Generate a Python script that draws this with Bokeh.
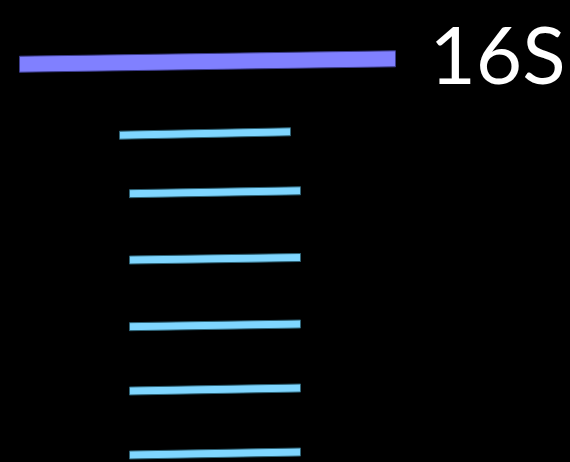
from bokeh.plotting import figure
from bokeh.models import Range1d
from bokeh.core.properties import value
from bokeh.embed import file_html
from bokeh.resources import INLINE
import numpy as np

# Data: segments (start, end along x; level at left and right ends)
labels = ["16S", "", "", "", "", "", ""]
x_start = [19, 119, 129, 129, 129, 129, 129]
x_end = [395, 290, 300, 300, 300, 300, 300]
y_left = [63.7, 134.7, 193.2, 259.5, 326.2, 390.5, 454.5]
y_right = [58.3, 131.3, 190.3, 257.0, 323.5, 387.5, 451.5]

# Styles
thickness = [16, 8, 8, 8, 8, 8, 8]
fill_colors = ["#8080ff"] + ["#7fd6ff"] * 6
line_colors = ["#3c3c8c"] + ["#2e6478"] * 6

p = figure(width=570, height=462, output_backend="svg", toolbar_location=None,
           x_range=Range1d(0, 570), y_range=Range1d(462, 0),
           min_border=0, background_fill_color="black", border_fill_color="black",
           outline_line_color=None)
p.axis.visible = False
p.grid.visible = False

xs, ys = [], []
for x0, x1, yl, yr, t in zip(x_start, x_end, y_left, y_right, thickness):
    h = t / 2.0
    xs.append([x0, x1, x1, x0])
    ys.append([yl - h, yr - h, yr + h, yl + h])

p.patches(xs, ys, fill_color=fill_colors, line_color=line_colors, line_width=1)

# Label next to the first segment
p.text(x=[x_end[0] + 102], y=[y_right[0] - 6], text=[labels[0]],
       text_color="white", text_font=value("Lato"), text_font_size="80px",
       text_align="center", text_baseline="middle")

html = file_html(p, INLINE)
html = html.replace("</head>", "<style>body{background:#000;}</style></head>", 1)
open("out.html", "w").write(html)
